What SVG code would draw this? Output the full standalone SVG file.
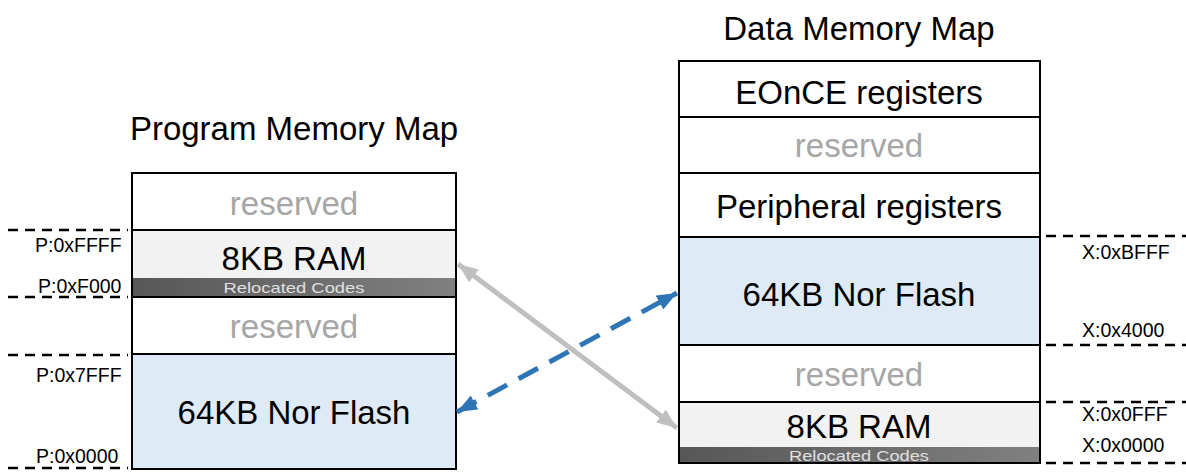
<svg xmlns="http://www.w3.org/2000/svg" width="1186" height="472" viewBox="0 0 1186 472">
<defs>
<style>
text{font-family:"Liberation Sans",Arial,sans-serif;}
.t{font-size:33px;fill:#000;text-anchor:middle;}
.r{font-size:33px;fill:#A6A6A6;text-anchor:middle;}
.lab{font-size:19.5px;fill:#000;}
.reloc{font-size:15px;fill:#E0E0E0;text-anchor:middle;}
.box{stroke:#000;stroke-width:2;}
.dash{stroke:#000;stroke-width:2.5;stroke-dasharray:10 7;fill:none;}
</style>
<linearGradient id="gbar" x1="0" y1="0" x2="1" y2="0">
<stop offset="0" stop-color="#575757"/>
<stop offset="1" stop-color="#808080"/>
</linearGradient>
<marker id="ag" viewBox="0 0 10 10" refX="10" refY="5" markerWidth="20" markerHeight="16" markerUnits="userSpaceOnUse" orient="auto-start-reverse" preserveAspectRatio="none">
<path d="M0,0 L10,5 L0,10 Z" fill="#BFBFBF"/>
</marker>
<marker id="ab" viewBox="0 0 10 10" refX="10" refY="5" markerWidth="20" markerHeight="16" markerUnits="userSpaceOnUse" orient="auto-start-reverse" preserveAspectRatio="none">
<path d="M0,0 L10,5 L0,10 Z" fill="#2E75B6"/>
</marker>
</defs>
<rect width="1186" height="472" fill="#fff"/>

<text class="t" x="294" y="140">Program Memory Map</text>
<text class="t" x="859" y="40">Data Memory Map</text>

<g id="prog-reserved-top">
<rect class="box" x="132" y="173" width="324" height="57" fill="#fff"/>
<text class="r" x="294" y="215">reserved</text>
</g>
<g id="prog-ram">
<rect class="box" x="132" y="230" width="324" height="67" fill="#F2F2F2"/>
<rect x="133" y="278" width="322" height="18" fill="url(#gbar)"/>
<text class="t" x="294" y="270">8KB RAM</text>
<text class="reloc" x="294" y="293" textLength="141" lengthAdjust="spacingAndGlyphs">Relocated Codes</text>
</g>
<g id="prog-reserved-mid">
<rect class="box" x="132" y="297" width="324" height="57" fill="#fff"/>
<text class="r" x="294" y="338">reserved</text>
</g>
<g id="prog-flash">
<rect class="box" x="132" y="354" width="324" height="115" fill="#DEEBF7"/>
<text class="t" x="294" y="424">64KB Nor Flash</text>
</g>

<g id="data-eonce">
<rect class="box" x="679" y="61" width="361" height="56" fill="#fff"/>
<text class="t" x="859" y="104">EOnCE registers</text>
</g>
<g id="data-reserved-top">
<rect class="box" x="679" y="117" width="361" height="56" fill="#fff"/>
<text class="r" x="859" y="157">reserved</text>
</g>
<g id="data-periph">
<rect class="box" x="679" y="173" width="361" height="64" fill="#fff"/>
<text class="t" x="859" y="218">Peripheral registers</text>
</g>
<g id="data-flash">
<rect class="box" x="679" y="237" width="361" height="108" fill="#DEEBF7"/>
<text class="t" x="859" y="306">64KB Nor Flash</text>
</g>
<g id="data-reserved-bot">
<rect class="box" x="679" y="345" width="361" height="57" fill="#fff"/>
<text class="r" x="859" y="386">reserved</text>
</g>
<g id="data-ram">
<rect class="box" x="679" y="402" width="361" height="61" fill="#F2F2F2"/>
<rect x="680" y="447" width="359" height="15" fill="url(#gbar)"/>
<text class="t" x="859" y="438">8KB RAM</text>
<text class="reloc" x="859" y="461" textLength="140" lengthAdjust="spacingAndGlyphs">Relocated Codes</text>
</g>

<g id="prog-addresses">
<line class="dash" x1="8" y1="230" x2="128" y2="230"/>
<line class="dash" x1="8" y1="297" x2="128" y2="297"/>
<line class="dash" x1="8" y1="355" x2="128" y2="355"/>
<line class="dash" x1="8" y1="468" x2="128" y2="468"/>
<text class="lab" x="35" y="252">P:0xFFFF</text>
<text class="lab" x="38" y="293">P:0xF000</text>
<text class="lab" x="36" y="382">P:0x7FFF</text>
<text class="lab" x="36" y="463">P:0x0000</text>
</g>

<g id="data-addresses">
<line class="dash" x1="1046" y1="236" x2="1186" y2="236"/>
<line class="dash" x1="1046" y1="345" x2="1186" y2="345"/>
<line class="dash" x1="1046" y1="402" x2="1186" y2="402"/>
<line class="dash" x1="1046" y1="463" x2="1186" y2="463"/>
<text class="lab" x="1082" y="259">X:0xBFFF</text>
<text class="lab" x="1082" y="337">X:0x4000</text>
<text class="lab" x="1082" y="421">X:0x0FFF</text>
<text class="lab" x="1082" y="452">X:0x0000</text>
</g>

<g id="connectors">
<line x1="458" y1="264" x2="677" y2="428" stroke="#BFBFBF" stroke-width="5" marker-start="url(#ag)" marker-end="url(#ag)"/>
<line x1="457" y1="412" x2="677" y2="293" stroke="#2E75B6" stroke-width="5" stroke-dasharray="22 13" marker-start="url(#ab)" marker-end="url(#ab)"/>
</g>
</svg>
